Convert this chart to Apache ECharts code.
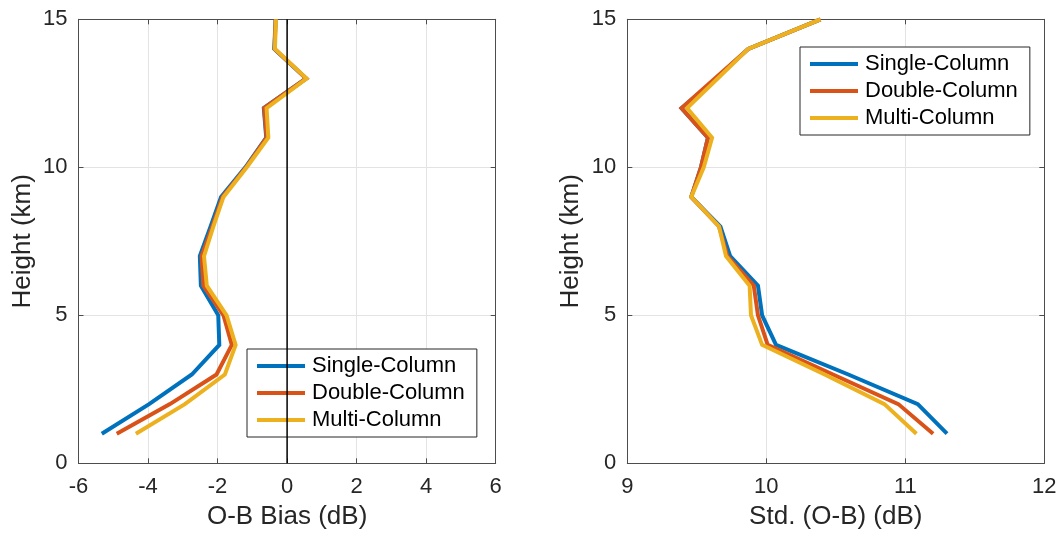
<!DOCTYPE html>
<html>
<head>
<meta charset="utf-8">
<script src="https://cdn.jsdelivr.net/npm/echarts@6/dist/echarts.min.js"></script>
<style>
  html, body { margin: 0; padding: 0; background: #fff; }
  #chart { width: 1062px; height: 538px; }
</style>
</head>
<body>
<div id="chart"></div>
<script>
// Heights of the profile levels (km)
const heights = [1, 2, 3, 4, 5, 6, 7, 8, 9, 10, 11, 12, 13, 14, 15];

// O-B bias (dB) per level
const biasSingle = [-5.33, -3.97, -2.74, -1.95, -1.98, -2.48, -2.51, -2.20, -1.90, -1.20, -0.60, -0.67, 0.55, -0.37, -0.33];
const biasDouble = [-4.90, -3.37, -2.03, -1.59, -1.83, -2.41, -2.46, -2.15, -1.86, -1.18, -0.59, -0.66, 0.55, -0.36, -0.33];
const biasMulti  = [-4.35, -2.94, -1.79, -1.48, -1.74, -2.31, -2.39, -2.12, -1.83, -1.16, -0.54, -0.59, 0.56, -0.35, -0.32];

// Standard deviation of O-B (dB) per level
const stdSingle = [11.30, 11.09, 10.59, 10.07, 9.97, 9.94, 9.74, 9.67, 9.46, 9.53, 9.58, 9.39, 9.64, 9.87, 10.39];
const stdDouble = [11.20, 10.95, 10.48, 10.01, 9.94, 9.91, 9.72, 9.66, 9.46, 9.53, 9.58, 9.39, 9.63, 9.87, 10.39];
const stdMulti  = [11.08, 10.85, 10.42, 9.97, 9.89, 9.88, 9.71, 9.66, 9.46, 9.55, 9.61, 9.43, 9.65, 9.87, 10.39];

const seriesNames = ['Single-Column', 'Double-Column', 'Multi-Column'];
const seriesColors = ['#0072BD', '#D95319', '#EDB120'];

// Axis ranges and tick labels
const biasTicks = [-6, -4, -2, 0, 2, 4, 6];
const stdTicks = [9, 10, 11, 12];
const heightTicks = [0, 5, 10, 15];
const zeroBias = 0;

const FONT = '"Liberation Sans", Arial, Helvetica, sans-serif';
const AX = '#4d4d4d';
const TXT = '#262626';
const GRIDC = '#e3e3e3';

function pairs(xs) { return xs.map((x, i) => [x, heights[i]]); }

function mainX(gridIndex, ticks, name) {
  return {
    type: 'value', gridIndex, position: 'bottom',
    min: ticks[0], max: ticks[ticks.length - 1], interval: ticks[1] - ticks[0],
    name, nameLocation: 'middle', nameGap: 41,
    nameTextStyle: { fontFamily: FONT, fontSize: 26, color: TXT },
    axisLine: { show: true, onZero: false, lineStyle: { color: AX, width: 1 } },
    axisTick: { show: true, inside: true, length: 5, lineStyle: { color: AX } },
    axisLabel: { fontFamily: FONT, fontSize: 22, color: TXT, margin: 13 },
    splitLine: { show: true, lineStyle: { color: GRIDC, width: 1 } }
  };
}
function topX(gridIndex, ticks) {
  return {
    type: 'value', gridIndex, position: 'top',
    min: ticks[0], max: ticks[ticks.length - 1], interval: ticks[1] - ticks[0],
    axisLine: { show: true, onZero: false, lineStyle: { color: AX, width: 1 } },
    axisTick: { show: true, inside: true, length: 5, lineStyle: { color: AX } },
    axisLabel: { show: false }, splitLine: { show: false }
  };
}
function mainY(gridIndex) {
  return {
    type: 'value', gridIndex, position: 'left',
    min: heightTicks[0], max: heightTicks[heightTicks.length - 1], interval: heightTicks[1] - heightTicks[0],
    name: 'Height (km)', nameLocation: 'middle', nameGap: 43,
    nameTextStyle: { fontFamily: FONT, fontSize: 26, color: TXT },
    axisLine: { show: true, onZero: false, lineStyle: { color: AX, width: 1 } },
    axisTick: { show: true, inside: true, length: 5, lineStyle: { color: AX } },
    axisLabel: { fontFamily: FONT, fontSize: 22, color: TXT, margin: 11 },
    splitLine: { show: true, lineStyle: { color: GRIDC, width: 1 } }
  };
}
function rightY(gridIndex) {
  return {
    type: 'value', gridIndex, position: 'right',
    min: heightTicks[0], max: heightTicks[heightTicks.length - 1], interval: heightTicks[1] - heightTicks[0],
    axisLine: { show: true, onZero: false, lineStyle: { color: AX, width: 1 } },
    axisTick: { show: true, inside: true, length: 5, lineStyle: { color: AX } },
    axisLabel: { show: false }, splitLine: { show: false }
  };
}

function profile(name, color, values, axisIdx) {
  return {
    type: 'line', name, data: pairs(values),
    xAxisIndex: axisIdx, yAxisIndex: axisIdx,
    showSymbol: false, symbol: 'none', silent: true,
    lineStyle: { color, width: 4, join: 'miter', cap: 'butt' },
    itemStyle: { color },
    emphasis: { disabled: true }, z: 3
  };
}

function legendAt(left, top) {
  return {
    left, top, orient: 'vertical',
    data: seriesNames.map((n) => ({ name: n, icon: 'rect' })),
    itemWidth: 48, itemHeight: 4, itemGap: 5,
    padding: [6, 12, 6, 10],
    backgroundColor: '#fff', borderColor: TXT, borderWidth: 1, borderRadius: 0,
    textStyle: { fontFamily: FONT, fontSize: 22, color: '#000', padding: [0, 0, 0, 2] },
    selectedMode: false
  };
}

const chart = echarts.init(document.getElementById('chart'), null, { renderer: 'canvas' });

chart.setOption({
  animation: false,
  backgroundColor: '#fff',
  grid: [
    { left: 78.5, right: 566.3, top: 19.3, bottom: 74.7 },
    { left: 627.3, right: 17.7, top: 19.3, bottom: 74.7 }
  ],
  xAxis: [
    mainX(0, biasTicks, 'O-B Bias (dB)'),
    mainX(1, stdTicks, 'Std. (O-B) (dB)'),
    topX(0, biasTicks),
    topX(1, stdTicks)
  ],
  yAxis: [mainY(0), mainY(1), rightY(0), rightY(1)],
  legend: [legendAt(247, 349), legendAt(800, 47)],
  series: [
    profile(seriesNames[0], seriesColors[0], biasSingle, 0),
    profile(seriesNames[1], seriesColors[1], biasDouble, 0),
    profile(seriesNames[2], seriesColors[2], biasMulti, 0),
    profile(seriesNames[0], seriesColors[0], stdSingle, 1),
    profile(seriesNames[1], seriesColors[1], stdDouble, 1),
    profile(seriesNames[2], seriesColors[2], stdMulti, 1),
    {
      // vertical reference line at zero bias
      type: 'line', name: 'zero',
      data: [[zeroBias, heightTicks[0]], [zeroBias, heightTicks[heightTicks.length - 1]]],
      xAxisIndex: 0, yAxisIndex: 0,
      showSymbol: false, symbol: 'none', silent: true,
      lineStyle: { color: '#000', width: 1.5 },
      emphasis: { disabled: true }, z: 4
    }
  ]
});
</script>
</body>
</html>
